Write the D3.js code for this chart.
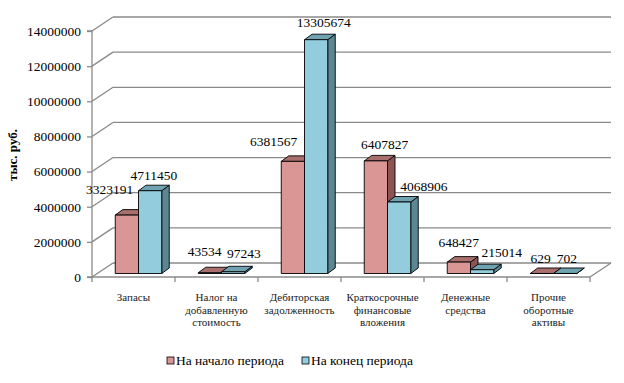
<!DOCTYPE html>
<html><head><meta charset="utf-8">
<script src="https://cdn.jsdelivr.net/npm/d3@7"></script>
<style>
html,body{margin:0;padding:0;background:#fff;}
svg{display:block;}
</style></head>
<body>
<script>
const categories = [
  ["Запасы"],
  ["Налог на","добавленную","стоимость"],
  ["Дебиторская","задолженность"],
  ["Краткосрочные","финансовые","вложения"],
  ["Денежные","средства"],
  ["Прочие","оборотные","активы"]
];
const seriesNames = ["На начало периода","На конец периода"];
const startValues = [3323191, 43534, 6381567, 6407827, 648427, 629];
const endValues   = [4711450, 97243, 13305674, 4068906, 215014, 702];
const yTicks = [0,2000000,4000000,6000000,8000000,10000000,12000000,14000000];
const yTitle = "тыс. руб.";

// layout (label nudges relative to bar top centre, px)
const labelNudge = [
  [[-21,-20],[-9,-16],[-23,-15],[5,-11],[-4,-14],[-5,-10]],
  [[0,-10],[7,-13],[4,-11.5],[21,-10],[16,-12],[-2,-10]]
];

const FF="'Liberation Serif','Times New Roman',serif";
const W=624,H=383;
const svg=d3.select("body").append("svg").attr("width",W).attr("height",H).style("font-family",FF);
const X0=92,X1=590,Y0=277,YT=31;
const DX=21,DY=-14;           // wall depth
const BSX=5,BSY=-3.5;         // bar front offset
const BDX=7.5,BDY=-5.5;       // bar depth

const catKeys=categories.map((c,i)=>i);
const x=d3.scaleBand().domain(catKeys).range([X0,X1]).paddingInner(0.44).paddingOuter(0.22);
const xs=d3.scaleBand().domain([0,1]).range([0,x.bandwidth()]);
const y=d3.scaleLinear().domain([0,14000000]).range([Y0,YT]);

const gridC="#8a8a8a";
const g=svg.append("g");
yTicks.forEach(t=>{
  const yy=y(t);
  g.append("line").attr("x1",X0+DX).attr("x2",X1+DX).attr("y1",yy+DY).attr("y2",yy+DY)
    .attr("stroke",gridC).attr("stroke-width",1.3);
  g.append("line").attr("x1",X0).attr("x2",X0+DX).attr("y1",yy).attr("y2",yy+DY)
    .attr("stroke",gridC).attr("stroke-width",1.3);
});
g.append("line").attr("x1",X0).attr("x2",X1).attr("y1",Y0).attr("y2",Y0).attr("stroke",gridC).attr("stroke-width",1.3);
g.append("line").attr("x1",X1).attr("x2",X1+DX).attr("y1",Y0).attr("y2",Y0+DY).attr("stroke",gridC).attr("stroke-width",1.3);
const yAxis=d3.axisLeft(y).tickValues(yTicks).tickSize(5).tickPadding(6).tickFormat(d3.format("d"));
const ya=svg.append("g").attr("transform",`translate(${X0},0)`).call(yAxis);
ya.attr("font-family",null).attr("font-size",null);
ya.select(".domain").attr("stroke",gridC).attr("stroke-width",1.3).attr("d",`M-5,${YT}H0V${Y0}H-5`);
ya.selectAll(".tick line").attr("stroke",gridC).attr("stroke-width",1.3);
ya.selectAll(".tick text").style("font-size","13.5px").style("font-family",FF).attr("fill","#000");
d3.range(categories.length+1).forEach(i=>{
  const xx=X0+i*x.step();
  g.append("line").attr("x1",xx).attr("x2",xx).attr("y1",Y0).attr("y2",Y0+5).attr("stroke",gridC).attr("stroke-width",1.3);
});
categories.forEach((lines,i)=>{
  const cx=x(i)+x.bandwidth()/2;
  const t=svg.append("text").attr("x",cx).attr("y",301).attr("text-anchor","middle")
    .style("font-size","11px").style("font-family",FF).attr("fill","#222");
  lines.forEach((l,k)=>t.append("tspan").attr("x",cx).attr("dy",k?12.5:0).text(l));
});

const fills=[
  {front:"#d99694",top:"#a86f6d",side:"#8c5553"},
  {front:"#93cddd",top:"#6fa3b1",side:"#5a8793"}
];
const seriesVals=[startValues,endValues];
const bars=svg.append("g");
categories.forEach((c,i)=>{
  seriesVals.forEach((vals,s)=>{
    const v=vals[i];
    const xl=x(i)+xs(s)+BSX, xr=xl+xs.bandwidth();
    const yb=Y0+BSY, yt=y(v)+BSY;
    const f=fills[s];
    const bg=bars.append("g").attr("stroke","#000").attr("stroke-width",0.9).attr("stroke-linejoin","round");
    bg.append("polygon").attr("points",[[xr,yt],[xr+BDX,yt+BDY],[xr+BDX,yb+BDY],[xr,yb]].join(" ")).attr("fill",f.side);
    bg.append("polygon").attr("points",[[xl,yt],[xl+BDX,yt+BDY],[xr+BDX,yt+BDY],[xr,yt]].join(" ")).attr("fill",f.top);
    bg.append("rect").attr("x",xl).attr("y",yt).attr("width",xr-xl).attr("height",Math.max(0,yb-yt)).attr("fill",f.front);
  });
});
categories.forEach((c,i)=>{
  seriesVals.forEach((vals,s)=>{
    const v=vals[i];
    const xl=x(i)+xs(s)+BSX;
    const cx=xl+xs.bandwidth()/2+BDX/2;
    const ty=y(v)+BSY+BDY;
    const n=labelNudge[s][i];
    svg.append("text").attr("x",cx+n[0]).attr("y",ty+n[1]).attr("dy","0.35em")
      .attr("text-anchor","middle").style("font-size","13.5px").style("font-family",FF).attr("fill","#000").text(v);
  });
});
svg.append("text").attr("transform","translate(17,155) rotate(-90)").attr("text-anchor","middle")
  .style("font-size","13px").style("font-family",FF).attr("font-weight","bold").attr("fill","#000").text(yTitle);
const leg=[{x:167,c:fills[0].front,t:seriesNames[0]},{x:302,c:fills[1].front,t:seriesNames[1]}];
leg.forEach(l=>{
  svg.append("rect").attr("x",l.x).attr("y",357).attr("width",7).attr("height",7)
    .attr("fill",l.c).attr("stroke","#000").attr("stroke-width",0.8);
  svg.append("text").attr("x",l.x+9).attr("y",360.5).attr("dy","0.35em").style("font-size","13.5px").style("font-family",FF).attr("fill","#000").text(l.t);
});
</script>
</body></html>
